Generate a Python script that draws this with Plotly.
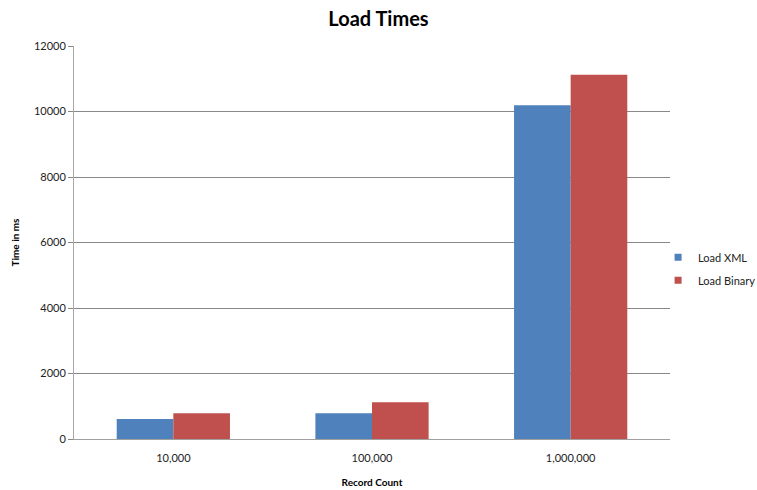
import plotly.graph_objects as go

categories = ["10,000", "100,000", "1,000,000"]
load_xml = [610, 785, 10190]
load_binary = [785, 1120, 11120]

series = [("Load XML", load_xml, "#4F81BD"), ("Load Binary", load_binary, "#C0504D")]

font_family = "Lato, 'Open Sans', sans-serif"

fig = go.Figure()
for name, values, color in series:
    fig.add_trace(go.Bar(name=name, x=categories, y=values, showlegend=False,
                         legendgroup=name,
                         marker=dict(color=color, line=dict(width=0))))
# small square swatches for the legend
for name, values, color in series:
    fig.add_trace(go.Scatter(name=name, x=[None], y=[None], mode="markers",
                             legendgroup=name,
                             marker=dict(symbol="square", size=7, color=color)))

fig.update_layout(
    width=757, height=490,
    margin=dict(l=74, r=87, t=46, b=51, autoexpand=False),
    paper_bgcolor="white", plot_bgcolor="white",
    barmode="group", bargap=0.43, bargroupgap=0,
    font=dict(family=font_family, size=11, color="#222222"),
    title=dict(text="<b>Load Times</b>", x=0.5, xanchor="center",
               y=0.962, yanchor="middle",
               font=dict(family=font_family, size=20, color="#000000")),
    legend=dict(x=0.98, xanchor="left", y=0.433, yanchor="middle",
                bgcolor="rgba(0,0,0,0)", font=dict(size=11, color="#222222"),
                tracegroupgap=4, itemwidth=30),
    showlegend=True,
)
fig.update_xaxes(
    showline=True, linecolor="#a0a0a0", linewidth=1,
    showgrid=False, ticks="outside", ticklen=9, tickcolor="rgba(0,0,0,0)",
    tickfont=dict(size=11),
    title=dict(text="<b>Record Count</b>", font=dict(size=10, color="#000000"), standoff=15),
)
fig.update_yaxes(
    range=[0, 12000], dtick=2000, tickformat="d",
    showline=True, linecolor="#a8a8a8", linewidth=1,
    showgrid=True, gridcolor="#888888", gridwidth=1,
    ticks="outside", ticklen=5, tickcolor="#888888",
    tickfont=dict(size=11), zeroline=False,
    title=dict(text="<b>Time in ms</b>", font=dict(size=10, color="#000000"), standoff=12),
)

fig.write_html("out.html")
